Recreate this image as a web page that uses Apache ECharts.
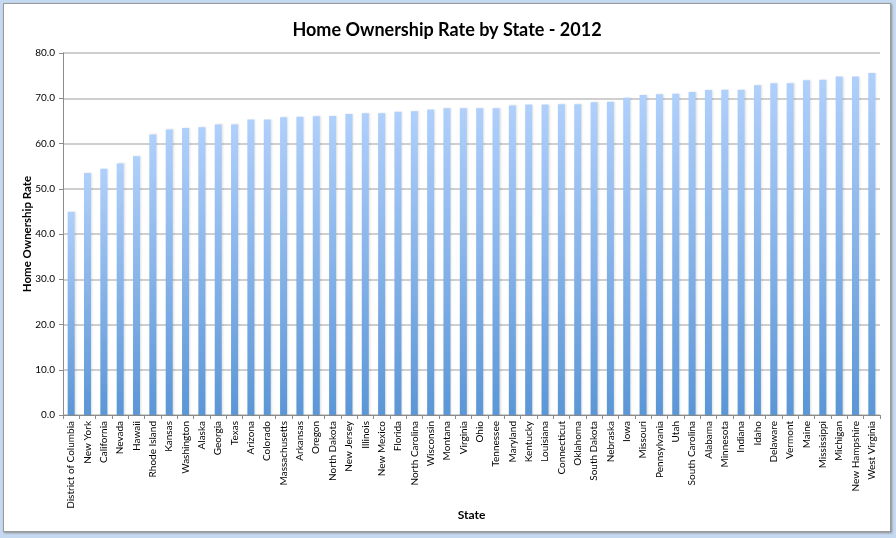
<!DOCTYPE html>
<html><head><meta charset="utf-8">
<script src="https://cdn.jsdelivr.net/npm/echarts@6/dist/echarts.min.js"></script>
<style>
html,body{margin:0;padding:0;width:896px;height:538px;overflow:hidden;background:#c5d9f1;}
#wrap{position:absolute;left:3px;top:3px;width:886px;height:527px;background:#fff;border:1px solid #9a9a9a;box-shadow:1px 1px 2px #8a8a8a;}
#c{width:886px;height:527px;}
</style></head><body>
<div id="wrap"><div id="c"></div></div>
<script>
const states = ["District of Columbia","New York","California","Nevada","Hawaii","Rhode Island","Kansas","Washington","Alaska","Georgia","Texas","Arizona","Colorado","Massachusetts","Arkansas","Oregon","North Dakota","New Jersey","Illinois","New Mexico","Florida","North Carolina","Wisconsin","Montana","Virginia","Ohio","Tennessee","Maryland","Kentucky","Louisiana","Connecticut","Oklahoma","South Dakota","Nebraska","Iowa","Missouri","Pennsylvania","Utah","South Carolina","Alabama","Minnesota","Indiana","Idaho","Delaware","Vermont","Maine","Mississippi","Michigan","New Hampshire","West Virginia"];
const rates = [44.9,53.5,54.4,55.6,57.2,62.0,63.1,63.4,63.6,64.2,64.2,65.3,65.3,65.8,65.9,66.0,66.1,66.5,66.7,66.7,67.0,67.1,67.5,67.8,67.8,67.8,67.8,68.4,68.6,68.6,68.7,68.7,69.1,69.2,70.1,70.7,70.9,71.0,71.4,71.8,71.9,71.9,72.9,73.3,73.3,74.0,74.1,74.8,74.8,75.6];
const yMin = 0, yMax = 80, yStep = 10;

const chart = echarts.init(document.getElementById('c'));
chart.setOption({
  animation:false,
  title:{text:'Home Ownership Rate by State - 2012',left:'center',top:12,
    textStyle:{fontFamily:'Lato',fontWeight:'bold',fontSize:18,color:'#000'}},
  grid:{left:59,right:10,top:49,bottom:116},
  xAxis:{type:'category',data:states,name:'State',nameLocation:'middle',nameGap:94,nameMoveOverlap:false,
    nameTextStyle:{fontFamily:'Lato',fontWeight:'bold',fontSize:12,color:'#000'},
    axisLine:{lineStyle:{color:'#8c8c8c',width:1}},
    axisTick:{show:true,alignWithLabel:false,length:4,lineStyle:{color:'#8c8c8c'}},
    axisLabel:{rotate:90,interval:0,fontFamily:'Lato',fontSize:10,color:'#000',margin:6}},
  yAxis:{type:'value',min:yMin,max:yMax,interval:yStep,name:'Home Ownership Rate',
    nameLocation:'middle',nameGap:30,nameRotate:90,nameMoveOverlap:false,
    nameTextStyle:{fontFamily:'Lato',fontWeight:'bold',fontSize:11.5,color:'#000'},
    axisLine:{show:true,lineStyle:{color:'#8c8c8c'}},
    axisTick:{show:true,length:4,lineStyle:{color:'#8c8c8c'}},
    axisLabel:{formatter:v=>v.toFixed(1),fontFamily:'Lato',fontSize:10,color:'#000',margin:8},
    splitLine:{lineStyle:{color:'#bfbfbf',width:1.5}}},
  series:[{type:'bar',data:rates,barWidth:7,
    itemStyle:{color:new echarts.graphic.LinearGradient(0,0,0,1,[{offset:0,color:'#b0d0fc'},{offset:1,color:'#5b96d6'}]),
      shadowColor:'rgba(0,0,0,0.12)',shadowBlur:2,shadowOffsetX:1}}]
});
</script></body></html>
